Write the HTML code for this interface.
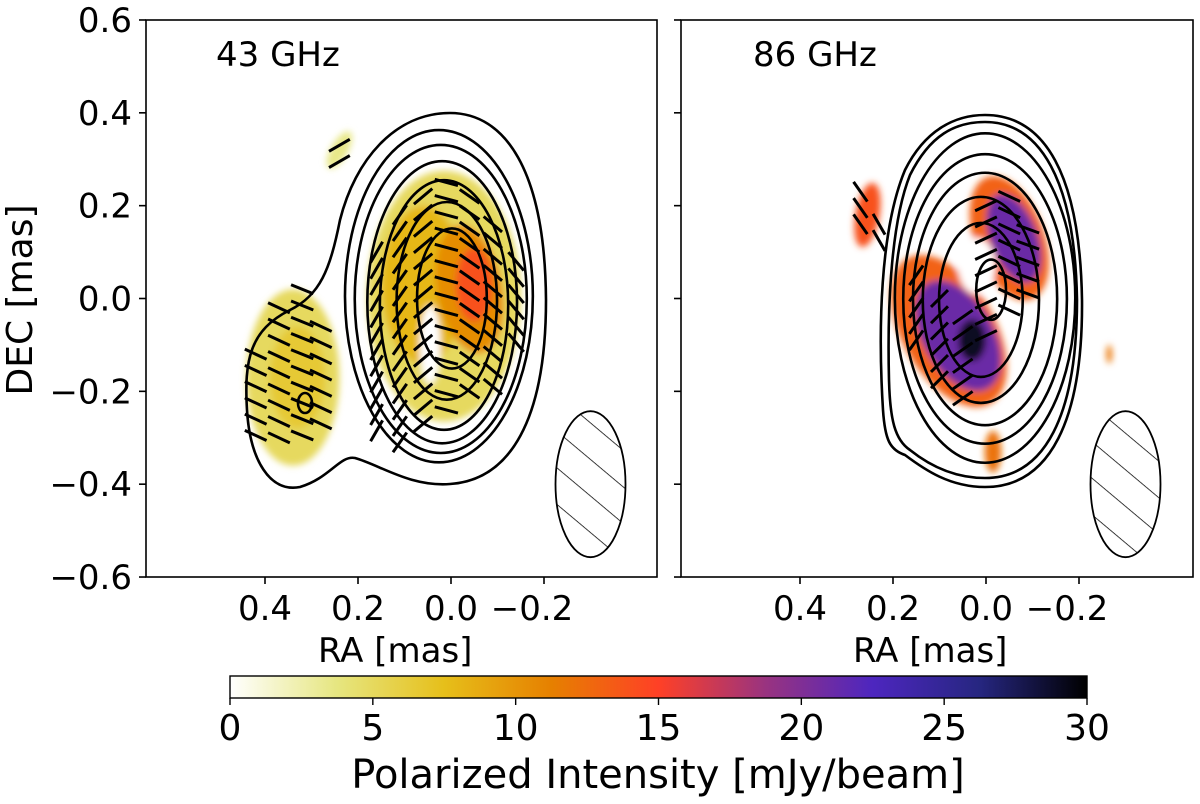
<!DOCTYPE html>
<html><head><meta charset="utf-8"><style>
html,body{margin:0;padding:0;background:#fff;}
svg{display:block;font-family:"DejaVu Sans","Liberation Sans",sans-serif;}
</style></head><body>
<svg id="fig" width="1200" height="804" viewBox="0 0 1200 804" xmlns="http://www.w3.org/2000/svg">
<defs>
<linearGradient id="cmap" x1="0" x2="1" y1="0" y2="0">
<stop offset="0" stop-color="#ffffff"/><stop offset="0.125" stop-color="#e6e680"/>
<stop offset="0.25" stop-color="#e6bf1a"/><stop offset="0.375" stop-color="#e68000"/>
<stop offset="0.5" stop-color="#ff4026"/><stop offset="0.625" stop-color="#993380"/>
<stop offset="0.75" stop-color="#4d26bf"/><stop offset="0.875" stop-color="#262680"/>
<stop offset="1" stop-color="#000000"/></linearGradient>
<filter id="blur4" x="-20%" y="-20%" width="140%" height="140%"><feGaussianBlur stdDeviation="3.5"/></filter>
<pattern id="hatch" width="28" height="28" patternUnits="userSpaceOnUse" patternTransform="rotate(40)">
<line x1="0" y1="0" x2="28" y2="0" stroke="#000" stroke-width="1.6"/></pattern>
<clipPath id="clipL"><rect x="146" y="20" width="511" height="557"/></clipPath>
<clipPath id="clipR"><rect x="681" y="20" width="512" height="557"/></clipPath>
</defs>
<g id="L" clip-path="url(#clipL)"></g>
<g id="R" clip-path="url(#clipR)"></g>
<g id="axes"></g>
</svg>
<script>
const NS="http://www.w3.org/2000/svg";
const yTicks=[0.6,0.4,0.2,0.0,-0.2,-0.4,-0.6];
const yTickLabels=["0.6","0.4","0.2","0.0","\u22120.2","\u22120.4","\u22120.6"];
const xTicks=[0.4,0.2,0.0,-0.2];
const xTickLabels=["0.4","0.2","0.0","\u22120.2"];
const cbTicks=[0,5,10,15,20,25,30];
const contoursL=[[-0.002,0.0,0.075,0.151],[0.009,-0.005,0.108,0.213],[0.015,-0.014,0.138,0.269],[0.019,-0.008,0.161,0.304],[0.022,-0.001,0.185,0.332],[0.026,0.005,0.202,0.358]];
const contoursR=[[-0.011,0.019,0.032,0.065],[0.011,-0.003,0.090,0.166],[0.011,-0.003,0.125,0.222],[0.002,-0.001,0.155,0.272],[0.002,-0.001,0.176,0.312],[0.002,0.001,0.194,0.355]];
const blobsL=[[0.015,0.005,0.165,0.27,0,5],[0.34,-0.17,0.10,0.19,0,5],[0.24,0.32,0.018,0.045,30,3.5],
 [0.06,0.03,0.09,0.17,0,8],[-0.04,0.02,0.07,0.14,-10,10.5],[-0.05,0.03,0.04,0.08,0,14],[0.33,-0.17,0.06,0.11,0,6.5]];
const holesL=[[0.045,-0.1,0.022,0.085]];
const blobsR=[[-0.05,0.13,0.075,0.14,-20,13],[0.08,-0.07,0.10,0.18,-30,13],[0.255,0.18,0.026,0.07,10,14],
 [-0.265,-0.12,0.006,0.02,0,12],[-0.015,-0.33,0.018,0.045,0,12],[-0.06,0.13,0.05,0.10,-20,21],[0.06,-0.08,0.075,0.13,-30,21],[0.03,-0.09,0.03,0.045,0,29]];
const holesR=[[0.02,0.07,0.04,0.06]];
const evpaL_main_cols=[0.16,0.11,0.06,0.01,-0.04,-0.09,-0.14];
const evpaL_main_ang=[-60,-55,-40,15,35,40,50];
const evpaL_main_top=[0.10,0.18,0.22,0.25,0.22,0.16,0.08];
const evpaL_main_bot=[-0.30,-0.33,-0.30,-0.24,-0.22,-0.20,-0.12];
const evpaL_lobe_cols=[0.42,0.37,0.32,0.28];
const evpaL_lobe_ang=[25,25,22,25];
const evpaL_lobe_top=[-0.12,-0.02,0.02,-0.06];
const evpaL_lobe_bot=[-0.30,-0.32,-0.32,-0.30];
const evpaR_cols=[0.27,0.23,0.15,0.10,0.05,0.0,-0.05,-0.09];
const evpaR_ang=[55,60,-55,-45,-35,-25,25,20];
const evpaR_top=[0.23,0.16,0.05,0.00,-0.04,0.20,0.22,0.15];
const evpaR_bot=[0.13,0.12,-0.10,-0.18,-0.22,-0.10,-0.05,-0.02];
const rowStep=0.035;

function mk(tag,attrs,parent,text){const e=document.createElementNS(NS,tag);for(const k in attrs)e.setAttribute(k,attrs[k]);if(text!==undefined)e.textContent=text;parent.appendChild(e);return e;}
const yS=d=>298.5-d*464.2;
const xL=r=>451-r*465;
const xR=r=>986-r*465;
const ppm=465;
const cbX=v=>230+v/30*857;
function cmap(v){const s=[[255,255,255],[230,230,128],[230,191,26],[230,128,0],[255,64,38],[153,51,128],[77,38,191],[38,38,128],[0,0,0]];
 let t=Math.max(0,Math.min(1,v/30))*8;const i=Math.min(7,Math.floor(t)),f=t-i;const c=s[i].map((a,k)=>Math.round(a+(s[i+1][k]-a)*f));return `rgb(${c})`;}

function panel(g,X,blobs,holes,contours,evpaSets,outerPath,beamRA){
 const bg=mk('g',{filter:'url(#blur4)'},g);
 
 
 blobs.forEach(b=>{const cx=X(b[0]),cy=yS(b[1]);const e=mk('ellipse',{cx,cy,rx:b[2]*ppm,ry:b[3]*464,fill:cmap(b[5]),transform:`rotate(${b[4]} ${cx} ${cy})`},bg);
  
  });
 holes.forEach(h=>{const e=mk('ellipse',{cx:X(h[0]),cy:yS(h[1]),rx:h[2]*ppm,ry:h[3]*464,fill:'#fff'},bg);
  
  });
 const cg=mk('g',{fill:'none',stroke:'#000','stroke-width':2.6},g);
 
 
 contours.forEach(c=>{const e=mk('ellipse',{cx:X(c[0]),cy:yS(c[1]),rx:c[2]*ppm,ry:c[3]*464},cg);
  
  });
 const op=mk('path',{d:outerPath},cg);
 
 
 const vg=mk('g',{stroke:'#000','stroke-width':3},g);
 
 
 evpaSets.forEach(s=>{s.cols.forEach((r,i)=>{for(let d=s.top[i];d>=s.bot[i]-1e-6;d-=rowStep){
  const cx=X(r),cy=yS(d),a=s.ang[i]*Math.PI/180,L=12;
  const l=mk('line',{x1:cx-L*Math.cos(a),y1:cy-L*Math.sin(a),x2:cx+L*Math.cos(a),y2:cy+L*Math.sin(a)},vg);
  
  }});});
 const bx=X(beamRA),by=yS(-0.4);
 const bh=mk('ellipse',{cx:bx,cy:by,rx:35,ry:73,fill:'url(#hatch)',stroke:'#000','stroke-width':1.8},g);
 
 
}
const L=document.getElementById('L'),R=document.getElementById('R');
panel(L,xL,blobsL,holesL,contoursL,
 [{cols:evpaL_main_cols,ang:evpaL_main_ang,top:evpaL_main_top,bot:evpaL_main_bot},{cols:evpaL_lobe_cols,ang:evpaL_lobe_ang,top:evpaL_lobe_top,bot:evpaL_lobe_bot},{cols:[0.24],ang:[-30],top:[0.33],bot:[0.29]}],
 "M450,113 C505,113 545,170 546,300 C546,420 510,480 450,484 C410,487 380,465 355,458 C340,455 330,478 300,487 C270,493 250,460 247,410 C244,360 250,330 290,310 C320,295 330,270 340,220 C355,160 395,113 450,113 Z M298,403 a7,10 0 1,0 14,0 a7,10 0 1,0 -14,0",-0.3);
panel(R,xR,blobsR,holesR,contoursR,[{cols:evpaR_cols,ang:evpaR_ang,top:evpaR_top,bot:evpaR_bot}],
 "M985,115 C1045,115 1080,175 1082,300 C1083,420 1050,487 985,487 C950,487 925,470 905,455 C890,450 885,440 883,410 C878,330 880,230 905,170 C925,130 955,115 985,115 Z M985,122 C1040,122 1075,180 1077,300 C1077,415 1045,478 985,478 C955,478 930,466 910,450 C895,440 890,420 889,380 C887,300 892,220 910,175 C930,135 955,122 985,122 Z",-0.3);

const A=document.getElementById('axes');
function frame(x0,x1,X,labels,name){
 const r=mk('rect',{x:x0,y:20,width:x1-x0,height:557,fill:'none',stroke:'#000','stroke-width':1.6},A);
 
 
 yTicks.forEach((v,i)=>{mk('line',{x1:x0-7,x2:x0,y1:yS(v),y2:yS(v),stroke:'#000','stroke-width':1.6},A);
  if(labels){const t=mk('text',{x:x0-14,y:yS(v)+12,'text-anchor':'end','font-size':34},A,yTickLabels[i]);
   
   }});
 xTicks.forEach((v,i)=>{mk('line',{x1:X(v),x2:X(v),y1:577,y2:584,stroke:'#000','stroke-width':1.6},A);
  const t=mk('text',{x:X(v)+(v<0?-12:0),y:620,'text-anchor':'middle','font-size':34},A,xTickLabels[i]);
  
  });
 const xl=mk('text',{x:X(0.12),y:662,'text-anchor':'middle','font-size':34},A,'RA [mas]');
 
 
}
frame(146,657,xL,true,'left-panel');
frame(681,1193,xR,false,'right-panel');
let t=mk('text',{x:216,y:66,'font-size':34},A,'43 GHz');


t=mk('text',{x:753,y:66,'font-size':34},A,'86 GHz');


t=mk('text',{x:0,y:0,'font-size':36,'text-anchor':'middle',transform:'translate(32,300) rotate(-90)'},A,'DEC [mas]');


const cb=mk('rect',{x:230,y:676,width:857,height:22,fill:'url(#cmap)',stroke:'#000','stroke-width':1.4},A);


cbTicks.forEach(v=>{mk('line',{x1:cbX(v),x2:cbX(v),y1:698,y2:705,stroke:'#000','stroke-width':1.4},A);
 const l=mk('text',{x:cbX(v),y:740,'text-anchor':'middle','font-size':36},A,String(v));
 
 });
t=mk('text',{x:658,y:788,'text-anchor':'middle','font-size':40},A,'Polarized Intensity [mJy/beam]');


</script>
</body></html>
